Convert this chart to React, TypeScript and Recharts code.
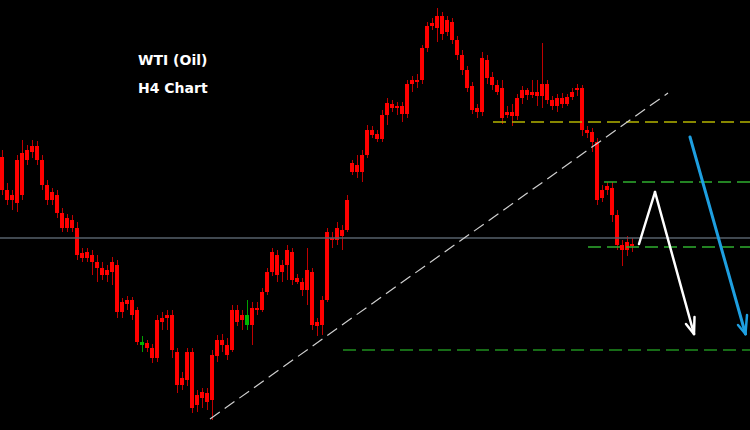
import { ComposedChart, Bar, XAxis, YAxis, ReferenceLine } from "recharts";

// H4 candles left to right
const opens = [
  84.3, 81.0, 80.0, 79.7, 80.5, 84.0, 84.8, 85.4, 84.0, 81.5,
  80.0, 80.5, 78.7, 77.2, 78.0, 77.2, 74.7, 74.2, 74.5, 73.8,
  73.2, 72.5, 72.8, 73.5, 68.8, 69.6, 70.0, 69.0, 65.8, 65.7,
  65.2, 64.2, 67.8, 68.2, 68.5, 64.8, 61.5, 62.0, 64.8, 59.5,
  60.2, 60.7, 60.0, 64.4, 66.0, 65.5, 65.0, 69.0, 68.0, 68.5,
  67.5, 69.2, 69.0, 70.8, 72.8, 74.5, 72.8, 73.5, 74.8, 72.2,
  71.8, 71.0, 72.8, 67.8, 67.5, 70.0, 76.0, 76.0, 77.0, 77.0,
  82.8, 83.5, 82.8, 84.5, 87.0, 86.6, 86.1, 88.5, 89.6, 89.2,
  89.4, 88.6, 91.6, 92.0, 92.0, 95.2, 97.4, 97.2, 98.4, 96.8,
  97.8, 96.0, 94.5, 93.0, 91.4, 89.2, 88.8, 94.0, 92.3, 91.5,
  91.2, 88.5, 88.8, 88.4, 90.2, 91.0, 90.5, 90.8, 90.4, 91.6,
  90.0, 89.4, 90.2, 89.6, 90.3, 91.0, 91.2, 87.0, 86.8, 85.8,
  80.2, 81.0, 81.2, 78.5, 75.5, 75.0, 75.6,
];
const highs = [
  85.0, 81.7, 81.0, 84.5, 86.0, 85.5, 86.0, 85.9, 84.5, 82.0,
  81.2, 81.0, 79.2, 78.6, 78.5, 77.8, 75.2, 75.2, 75.0, 74.5,
  73.8, 73.5, 74.3, 74.0, 70.2, 70.4, 70.3, 69.3, 66.4, 66.0,
  65.6, 68.5, 68.8, 69.0, 69.0, 65.2, 62.8, 65.2, 65.2, 61.0,
  61.2, 61.2, 65.0, 66.5, 66.6, 66.2, 69.5, 69.5, 69.0, 70.0,
  69.8, 69.8, 71.2, 73.2, 75.2, 75.0, 74.0, 75.5, 75.2, 72.6,
  72.2, 75.2, 73.2, 68.2, 70.4, 77.2, 76.8, 77.8, 77.5, 80.5,
  84.0, 84.5, 85.0, 87.5, 87.4, 87.0, 89.0, 90.2, 90.0, 89.8,
  89.8, 92.0, 92.4, 92.6, 95.5, 97.8, 98.2, 99.2, 98.8, 98.4,
  98.2, 96.4, 95.0, 93.4, 91.8, 89.6, 94.8, 94.5, 92.8, 92.0,
  92.0, 89.4, 89.6, 90.6, 91.4, 91.2, 92.0, 92.0, 95.7, 92.0,
  90.4, 90.6, 90.7, 90.6, 91.2, 91.6, 91.5, 87.4, 87.2, 86.2,
  81.5, 81.8, 81.8, 79.0, 76.0, 76.4, 76.2,
];
const lows = [
  80.5, 79.5, 79.0, 78.8, 80.0, 83.5, 84.2, 83.5, 81.0, 79.5,
  79.5, 78.2, 76.8, 76.8, 76.8, 74.0, 73.8, 73.8, 72.5, 71.8,
  72.0, 71.8, 71.5, 68.2, 68.2, 69.0, 68.0, 65.5, 64.8, 64.8,
  63.7, 63.8, 67.0, 67.0, 64.2, 60.7, 61.0, 61.4, 58.7, 58.8,
  59.2, 59.0, 58.0, 63.8, 64.8, 64.0, 64.8, 67.4, 67.0, 67.0,
  65.5, 68.5, 68.8, 70.5, 72.4, 71.8, 71.8, 72.0, 71.5, 71.6,
  70.4, 69.5, 67.0, 66.4, 66.5, 69.8, 75.2, 75.5, 75.0, 76.8,
  82.5, 82.2, 81.8, 84.2, 86.2, 85.8, 85.8, 87.5, 88.8, 88.5,
  87.8, 88.2, 90.8, 91.2, 91.6, 94.8, 97.0, 95.8, 96.0, 96.4,
  95.6, 94.0, 92.5, 90.8, 88.6, 88.2, 88.4, 91.6, 91.0, 90.5,
  87.6, 88.2, 87.4, 88.0, 89.6, 90.0, 90.2, 89.4, 89.2, 89.6,
  89.0, 88.8, 89.2, 89.4, 90.0, 90.4, 86.4, 86.2, 84.8, 79.5,
  79.8, 80.5, 77.8, 75.0, 73.4, 74.4, 74.8,
];
const closes = [
  81.0, 80.0, 80.5, 84.0, 84.7, 85.0, 85.4, 84.0, 81.5, 80.0,
  80.8, 78.7, 77.2, 78.2, 77.2, 74.5, 74.2, 74.8, 73.8, 73.2,
  72.5, 73.0, 73.8, 68.8, 69.8, 70.0, 68.5, 65.8, 65.5, 65.2,
  64.2, 68.0, 68.2, 68.5, 65.0, 61.5, 62.2, 64.8, 59.2, 60.5,
  60.8, 59.8, 64.5, 66.0, 65.5, 64.5, 69.0, 67.8, 68.5, 67.5,
  69.2, 69.0, 70.8, 72.8, 74.8, 72.5, 73.5, 75.0, 72.0, 71.8,
  71.0, 73.0, 67.5, 67.4, 70.0, 76.8, 76.2, 77.2, 76.4, 80.0,
  83.7, 82.8, 84.5, 87.0, 86.5, 86.1, 88.5, 89.7, 89.2, 89.4,
  88.6, 91.6, 92.0, 91.8, 95.2, 97.4, 97.7, 98.4, 96.6, 98.0,
  96.0, 94.5, 93.0, 91.2, 89.0, 88.8, 94.2, 92.2, 91.5, 90.8,
  88.2, 88.8, 88.4, 90.2, 91.0, 90.5, 90.8, 90.4, 91.6, 90.0,
  89.4, 90.2, 89.6, 90.3, 90.8, 91.2, 87.0, 86.7, 85.8, 80.0,
  81.0, 81.4, 78.5, 75.5, 75.0, 75.8, 75.4,
];
const greenBars = [28, 49];

// drawn objects
const baseLevel = 76.2;
const levels = [
  { from: 98.6, price: 87.8, color: "#b4b400" },
  { from: 120.8, price: 81.8, color: "#2fae2f" },
  { from: 117.6, price: 75.3, color: "#2fae2f" },
  { from: 68.6, price: 65.0, color: "#1f8f1f" },
];
const trendLine = [{ x: 42, y: 58.1 }, { x: 133.6, y: 90.7 }];
const whitePath = [{ x: 127.8, y: 75.6 }, { x: 131, y: 80.8 }, { x: 138.8, y: 66.6 }];
const whiteBarbs = [{ x: 137.2, y: 67.6 }, { x: 138.9, y: 68.3 }];
const bluePath = [{ x: 138, y: 86.3 }, { x: 149.1, y: 66.6 }];
const blueBarbs = [{ x: 147.6, y: 67.5 }, { x: 149.4, y: 68.5 }];

const data = opens.map((open, i) => ({
  x: i + 0.5,
  open,
  high: highs[i],
  low: lows[i],
  close: closes[i],
  green: greenBars.includes(i),
}));

function Candle(props: any) {
  const { x, y, width, height, payload } = props;
  const { open, close, high, low, green } = payload;
  const h = Math.abs(height);
  const top = height < 0 ? y + height : y;
  const k = high === low ? 0 : h / (high - low);
  const bodyTop = top + (high - Math.max(open, close)) * k;
  const bodyH = Math.max(1, Math.abs(open - close) * k);
  const cx = Math.round(x + width / 2) + 0.5;
  return (
    <g shapeRendering="crispEdges">
      <line x1={cx} x2={cx} y1={top} y2={top + h} stroke={green ? "#00a000" : "#c00000"} strokeWidth={1} />
      <rect x={x} y={bodyTop} width={width} height={bodyH} fill={green ? "#00b400" : "#ff0000"} />
    </g>
  );
}

function segments(points: { x: number; y: number }[]) {
  const out = [];
  for (let i = 0; i < points.length - 1; i++) out.push([points[i], points[i + 1]]);
  return out;
}

const labelStyle: any = {
  position: "absolute",
  left: 138,
  color: "#fff",
  fontFamily: "'DejaVu Sans', sans-serif",
  fontWeight: 700,
  fontSize: 14,
  lineHeight: "14px",
  whiteSpace: "nowrap",
};

export default function App() {
  const whiteTip = whitePath[whitePath.length - 1];
  const blueTip = bluePath[bluePath.length - 1];
  return (
    <div style={{ position: "absolute", left: 0, top: 0, width: 750, height: 430, background: "#000", overflow: "hidden" }}>
      <ComposedChart width={750} height={430} data={data} margin={{ top: 0, right: 0, left: 0, bottom: 0 }}>
        <XAxis dataKey="x" type="number" domain={[0, 150]} hide allowDataOverflow />
        <YAxis type="number" domain={[57, 100]} hide allowDataOverflow />
        <ReferenceLine y={baseLevel} stroke="#56606b" strokeWidth={1.5} />
        {levels.map((l, i) => (
          <ReferenceLine
            key={`lvl-${i}`}
            segment={[{ x: l.from, y: l.price }, { x: 150, y: l.price }]}
            stroke={l.color}
            strokeWidth={1.5}
            strokeDasharray="13 6"
            ifOverflow="visible"
          />
        ))}
        <ReferenceLine
          segment={trendLine}
          stroke="#cfcfcf"
          strokeWidth={1.2}
          strokeDasharray="12 6"
          ifOverflow="visible"
        />
        <Bar dataKey={(d: any) => [d.low, d.high]} barSize={4} shape={<Candle />} isAnimationActive={false} />
        {segments(whitePath).map((s, i) => (
          <ReferenceLine key={`w-${i}`} segment={s} stroke="#ffffff" strokeWidth={2.5} strokeLinecap="round" ifOverflow="visible" />
        ))}
        {whiteBarbs.map((b, i) => (
          <ReferenceLine key={`wb-${i}`} segment={[b, whiteTip]} stroke="#ffffff" strokeWidth={2.5} strokeLinecap="round" ifOverflow="visible" />
        ))}
        {segments(bluePath).map((s, i) => (
          <ReferenceLine key={`b-${i}`} segment={s} stroke="#1e9fe0" strokeWidth={3} strokeLinecap="round" ifOverflow="visible" />
        ))}
        {blueBarbs.map((b, i) => (
          <ReferenceLine key={`bb-${i}`} segment={[b, blueTip]} stroke="#1e9fe0" strokeWidth={2.5} strokeLinecap="round" ifOverflow="visible" />
        ))}
      </ComposedChart>
      <div style={{ ...labelStyle, top: 53 }}>WTI (Oil)</div>
      <div style={{ ...labelStyle, top: 81 }}>H4 Chart</div>
    </div>
  );
}
